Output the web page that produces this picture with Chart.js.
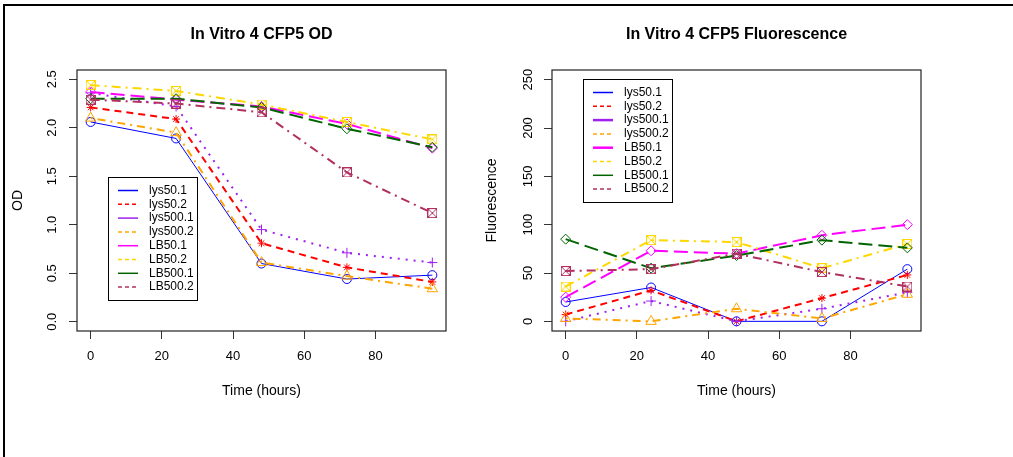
<!DOCTYPE html>
<html>
<head>
<meta charset="utf-8">
<script src="https://cdn.jsdelivr.net/npm/chart.js@4.4.1/dist/chart.umd.min.js"></script>
<style>
  html, body { margin: 0; padding: 0; background: #fff; }
  #page { position: relative; width: 1013px; height: 457px; overflow: hidden; background: #fff; }
  #frame { position: absolute; left: 3px; top: 4px; width: 1100px; height: 500px;
           border-left: 2px solid #000; border-top: 2px solid #000; }
  canvas { position: absolute; top: 0; }
</style>
</head>
<body>
<div id="page">
  <div id="frame"></div>
  <canvas id="odChart" width="523" height="457" style="left:0px"></canvas>
  <canvas id="fluChart" width="523" height="457" style="left:475px"></canvas>
</div>
<script>
const FONT = '"Liberation Sans", Arial, Helvetica, sans-serif';

// Sampling times (hours)
const hours = [0, 24, 48, 72, 96];
const seriesLabels = ['lys50.1', 'lys50.2', 'lys500.1', 'lys500.2', 'LB50.1', 'LB50.2', 'LB500.1', 'LB500.2'];

// Tick positions
const timeTicks = [0, 20, 40, 60, 80];
const odTicks = [0, 0.5, 1, 1.5, 2, 2.5];
const fluTicks = [0, 50, 100, 150, 200, 250];

// Optical density per culture
const odLys50_1  = [2.06, 1.89, 0.60, 0.44, 0.48];
const odLys50_2  = [2.21, 2.09, 0.81, 0.56, 0.41];
const odLys500_1 = [2.36, 2.22, 0.95, 0.71, 0.61];
const odLys500_2 = [2.10, 1.95, 0.61, 0.47, 0.34];
const odLB50_1   = [2.37, 2.29, 2.22, 2.04, 1.79];
const odLB50_2   = [2.44, 2.38, 2.24, 2.06, 1.88];
const odLB500_1  = [2.30, 2.30, 2.21, 1.99, 1.80];
const odLB500_2  = [2.29, 2.25, 2.16, 1.54, 1.12];

// Fluorescence per culture
const fluLys50_1  = [20, 35, 0, 0, 54];
const fluLys50_2  = [7, 32, 0, 24, 48];
const fluLys500_1 = [0, 21, 0, 13, 30];
const fluLys500_2 = [3, 0, 13, 3, 28];
const fluLB50_1   = [25, 73, 70, 89, 100];
const fluLB50_2   = [36, 84, 82, 55, 80];
const fluLB500_1  = [85, 55, 68, 84, 76];
const fluLB500_2  = [52, 54, 70, 51, 36];

const odSeries = [odLys50_1, odLys50_2, odLys500_1, odLys500_2, odLB50_1, odLB50_2, odLB500_1, odLB500_2];
const fluSeries = [fluLys50_1, fluLys50_2, fluLys500_1, fluLys500_2, fluLB50_1, fluLB50_2, fluLB500_1, fluLB500_2];

// Line and marker styling per culture
const lineColors = ['#0000FF', '#FF0000', '#A020F0', '#FFA500', '#FF00FF', '#FFD700', '#006400', '#B03060'];
const lineWidths = [1, 2, 2, 2, 2, 2, 2, 2];
const lineDashes = [[], [7, 5], [2, 6], [2, 5, 8, 5], [14, 6], [9, 5, 2, 5], [14, 6], [9, 5, 2, 5]];
const markerKinds = ['circle', 'star', 'cross', 'triangle', 'rectRot', 'boxX', 'rectRot', 'boxX'];
const markerSizes = [4.5, 4, 5, 6, 5, 5, 5, 5];
const legendDashes = [[], [4, 3], [], [4, 3], [], [4, 3], [], [4, 3]];

// Open square with a cross inside, used as a point marker
function boxXMarker(color) {
  const c = document.createElement('canvas');
  c.width = 10; c.height = 10;
  const g = c.getContext('2d');
  g.strokeStyle = color;
  g.lineWidth = 1;
  g.strokeRect(0.5, 0.5, 9, 9);
  g.beginPath();
  g.moveTo(0.5, 0.5); g.lineTo(9.5, 9.5);
  g.moveTo(9.5, 0.5); g.lineTo(0.5, 9.5);
  g.stroke();
  return c;
}

function makeDatasets(seriesList) {
  return seriesList.map((vals, i) => ({
    label: seriesLabels[i],
    data: hours.map((h, j) => ({ x: h, y: vals[j] })),
    borderColor: lineColors[i],
    borderWidth: lineWidths[i],
    borderDash: lineDashes[i],
    pointStyle: markerKinds[i] === 'boxX' ? boxXMarker(lineColors[i]) : markerKinds[i],
    pointRadius: markerSizes[i],
    pointBorderColor: lineColors[i],
    pointBackgroundColor: 'rgba(0,0,0,0)',
    pointBorderWidth: 1,
    tension: 0,
    fill: false,
    order: -i
  }));
}

// Boxed legend placed inside the plotting region
const boxLegend = {
  id: 'boxLegend',
  afterDatasetsDraw(chart, args, o) {
    const ctx = chart.ctx;
    ctx.save();
    ctx.fillStyle = '#fff';
    ctx.fillRect(o.left, o.top, o.width, o.height);
    ctx.lineWidth = 1;
    ctx.strokeStyle = '#000';
    ctx.strokeRect(o.left + 0.5, o.top + 0.5, o.width, o.height);
    ctx.font = '12px ' + FONT;
    ctx.textBaseline = 'middle';
    ctx.textAlign = 'left';
    chart.data.datasets.forEach((ds, i) => {
      const y = o.top + o.firstRow + i * o.rowHeight;
      ctx.strokeStyle = ds.borderColor;
      ctx.lineWidth = o.lineWidths[i];
      ctx.setLineDash(legendDashes[i]);
      ctx.beginPath();
      ctx.moveTo(o.lineX0, y);
      ctx.lineTo(o.lineX1, y);
      ctx.stroke();
      ctx.setLineDash([]);
      ctx.fillStyle = '#000';
      ctx.fillText(ds.label, o.textX, y);
    });
    ctx.restore();
  }
};

// Box around the plotting region
const plotFrame = {
  id: 'plotFrame',
  afterDraw(chart) {
    const { left, top, right, bottom } = chart.chartArea;
    const ctx = chart.ctx;
    ctx.save();
    ctx.strokeStyle = '#222';
    ctx.lineWidth = 1.2;
    ctx.strokeRect(left, top, right - left, bottom - top);
    ctx.restore();
  }
};

Chart.register(boxLegend, plotFrame);
Chart.defaults.font.family = FONT;
Chart.defaults.color = '#000';

function makeOptions(cfg) {
  const axisGrid = { drawOnChartArea: false, drawTicks: true, tickLength: 8, color: '#333', tickColor: '#333', lineWidth: 1 };
  return {
    responsive: false,
    animation: false,
    devicePixelRatio: 1,
    events: [],
    layout: { padding: 0 },
    plugins: {
      legend: { display: false },
      tooltip: { enabled: false },
      title: {
        display: true,
        text: cfg.title,
        color: '#000',
        font: { family: FONT, size: 16, weight: 'bold', lineHeight: 1.2 },
        padding: { top: 25.4, bottom: 25.4 }
      },
      boxLegend: {
        left: 108, top: cfg.legendTop, width: 89, height: 123,
        firstRow: 13.5, rowHeight: 13.8,
        lineX0: 118, lineX1: 138, textX: 149,
        lineWidths: cfg.legendWidths
      }
    },
    scales: {
      x: {
        type: 'linear',
        min: -3.84,
        max: 99.84,
        afterBuildTicks: s => { s.ticks = timeTicks.map(v => ({ value: v })); },
        afterFit: s => { s.height = 126; },
        grid: axisGrid,
        border: { display: false },
        ticks: { color: '#000', font: { family: FONT, size: 13, lineHeight: 1.2 }, padding: 10, maxRotation: 0, autoSkip: false },
        title: { display: true, text: 'Time (hours)', color: '#000', font: { family: FONT, size: 14, lineHeight: 1.2 }, padding: { top: 0, bottom: 57.6 } }
      },
      y: {
        type: 'linear',
        min: cfg.yMin,
        max: cfg.yMax,
        afterBuildTicks: s => { s.ticks = cfg.yTicks.map(v => ({ value: v })); },
        afterFit: s => { s.width = 77; },
        grid: axisGrid,
        border: { display: false },
        ticks: {
          color: '#000', font: { family: FONT, size: 13, lineHeight: 1.2 },
          minRotation: 90, maxRotation: 90, crossAlign: 'center',
          padding: cfg.yTickPad, autoSkip: false,
          callback: cfg.fmt
        },
        title: { display: true, text: cfg.yTitle, color: '#000', font: { family: FONT, size: 14, lineHeight: 1.2 }, padding: { top: cfg.yTitlePad, bottom: 0 } }
      },
      // empty right-hand margin so the title centres over the plotting region
      yMargin: {
        type: 'linear',
        position: 'right',
        display: true,
        afterFit: s => { s.width = 77; },
        grid: { display: false },
        border: { display: false },
        ticks: { display: false },
        title: { display: false }
      }
    }
  };
}

new Chart(document.getElementById('odChart'), {
  type: 'line',
  data: { datasets: makeDatasets(odSeries) },
  options: makeOptions({
    title: 'In Vitro 4 CFP5 OD',
    yTitle: 'OD',
    yMin: -0.096, yMax: 2.596,
    yTicks: odTicks,
    fmt: v => Number(v).toFixed(1),
    yTickPad: 8,
    yTitlePad: 10,
    legendTop: 177,
    legendWidths: [1.5, 1.5, 1.5, 1.5, 1.5, 1.5, 1.5, 1.5]
  })
});

new Chart(document.getElementById('fluChart'), {
  type: 'line',
  data: { datasets: makeDatasets(fluSeries) },
  options: makeOptions({
    title: 'In Vitro 4 CFP5 Fluorescence',
    yTitle: 'Fluorescence',
    yMin: -10, yMax: 260,
    yTicks: fluTicks,
    fmt: v => String(Math.round(v)),
    yTickPad: 5,
    yTitlePad: 8.5,
    legendTop: 79,
    legendWidths: [1.5, 1.5, 2.5, 1.5, 2.5, 1.5, 1.5, 1.5]
  })
});
</script>
</body>
</html>
